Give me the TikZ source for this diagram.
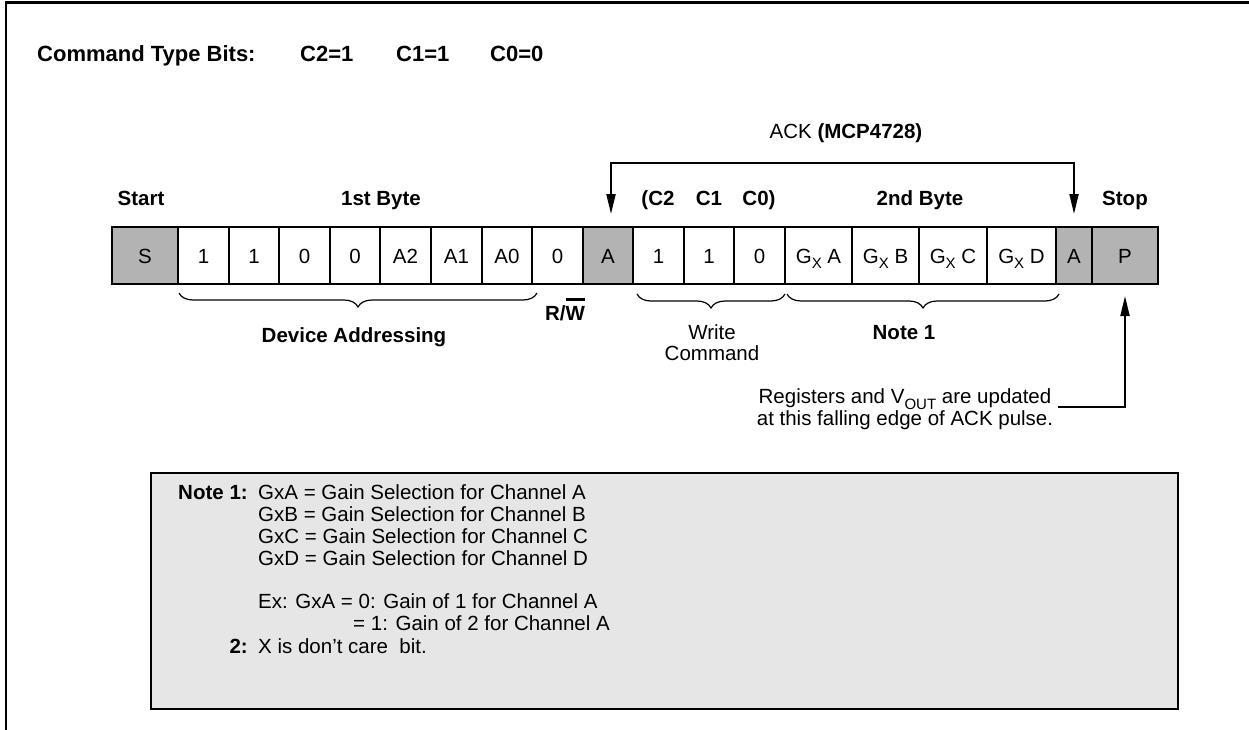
\documentclass[tikz,border=0pt]{standalone}
\usepackage{fontspec}
\setmainfont{Liberation Sans}
\usetikzlibrary{arrows.meta,decorations.pathreplacing}
\definecolor{cellgray}{RGB}{179,179,179}
\definecolor{notegray}{RGB}{230,230,230}
\newcommand{\mysub}[1]{\raisebox{-0.28em}{\fontsize{15}{15}\selectfont #1}}
\newcommand{\barW}{\setbox0\hbox{W}\rlap{\rule[19.5pt]{\wd0}{2.3pt}}\box0}
\begin{document}
\begin{tikzpicture}[x=1pt,y=-1pt,
  txt/.style={font=\fontsize{20.5}{22}\selectfont, inner sep=0pt},
  bld/.style={inner sep=0pt, font=\fontsize{20.5}{22}\selectfont\bfseries},
  ttl/.style={inner sep=0pt, font=\fontsize{22}{24}\selectfont\bfseries},
  cell/.style={txt, draw, line width=2pt, outer sep=0pt, minimum height=57pt, text height=15pt, text depth=0pt, anchor=west},
  gcell/.style={cell, fill=cellgray},
  frameline/.style={line width=2.5pt},
  conn/.style={line width=2pt},
  arr/.style={conn, -{Triangle[length=20pt,width=9pt]}},
  bracel/.style={line width=1.2pt, decorate, decoration={brace, mirror, amplitude=14pt}},
]
\useasboundingbox (0,0) rectangle (1249,730);
\draw[frameline] (6,730) -- (6,2.5) -- (1249,2.5);

% title
\node[ttl, anchor=base west] (title) at (37,62) {Command Type Bits:};
\node[ttl, anchor=base west] (tc2) at (300,62) {C2=1};
\node[ttl, anchor=base west] (tc1) at (396,62) {C1=1};
\node[ttl, anchor=base west] (tc0) at (490,62) {C0=0};

% cells
\node[gcell, minimum width=66pt] (c0) at (112,255.5) {S};
\node[cell, minimum width=51pt] (c1) at (178,255.5) {1};
\node[cell, minimum width=50pt] (c2) at (229,255.5) {1};
\node[cell, minimum width=51pt] (c3) at (279,255.5) {0};
\node[cell, minimum width=50pt] (c4) at (330,255.5) {0};
\node[cell, minimum width=51pt] (c5) at (380,255.5) {A2};
\node[cell, minimum width=51pt] (c6) at (431,255.5) {A1};
\node[cell, minimum width=50pt] (c7) at (482,255.5) {A0};
\node[cell, minimum width=51pt] (c8) at (532,255.5) {0};
\node[gcell, minimum width=50pt] (c9) at (583,255.5) {A};
\node[cell, minimum width=51pt] (c10) at (633,255.5) {1};
\node[cell, minimum width=50pt] (c11) at (684,255.5) {1};
\node[cell, minimum width=51pt] (c12) at (734,255.5) {0};
\node[cell, minimum width=67pt] (c13) at (785,255.5) {G\mysub{X} A};
\node[cell, minimum width=67pt] (c14) at (852,255.5) {G\mysub{X} B};
\node[cell, minimum width=68pt] (c15) at (919,255.5) {G\mysub{X} C};
\node[cell, minimum width=69pt] (c16) at (987,255.5) {G\mysub{X} D};
\node[gcell, minimum width=36pt] (c17) at (1056,255.5) {A};
\node[gcell, minimum width=66pt] (c18) at (1092,255.5) {P};

% upper labels
\node[txt, anchor=base] (ack) at (846,139) {ACK \textbf{(MCP4728)}};
\node[bld, anchor=base] (lstart) at (141,205) {Start};
\node[bld, anchor=base] (lbyte1) at (381,205) {1st Byte};
\node[bld, anchor=base] (lc2) at (658,205) {(C2};
\node[bld, anchor=base] (lc1) at (709,205) {C1};
\node[bld, anchor=base] (lc0) at (759,205) {C0)};
\node[bld, anchor=base] (lbyte2) at (920,205) {2nd Byte};
\node[bld, anchor=base] (lstop) at (1125,205) {Stop};

% ACK connectors
\coordinate (ackL) at (611,163);
\coordinate (ackR) at (1074,163);
\draw[arr, shorten >=13pt] (ackR) -- (ackL) -- (ackL |- c9.north);
\draw[arr, shorten >=13pt] (ackL) -- (ackR) -- (ackR |- c17.north);

% braces
\draw[bracel] ([xshift=1pt,yshift=-9pt]c1.south west) -- ([xshift=5pt,yshift=-9pt]c7.south east);
\draw[bracel] ([xshift=4pt,yshift=-10pt]c10.south west) -- ([yshift=-10pt]c12.south east);
\draw[bracel] ([xshift=2pt,yshift=-10pt]c13.south west) -- ([xshift=3pt,yshift=-10pt]c16.south east);

% lower labels
\node[bld, anchor=base] (ldev) at (354,342) {Device Addressing};
\node[bld, anchor=base] (lrw) at (565,320) {R/\barW};
\node[txt, anchor=base] (lwrite1) at (712,339) {Write};
\node[txt, anchor=base] (lwrite2) at (712,360) {Command};
\node[bld, anchor=base] (lnote) at (904,339) {Note 1};
\node[txt, align=center, anchor=center] (reg) at (905,409.5)
  {Registers and V\mysub{OUT} are updated\\at this falling edge of ACK pulse.};
\coordinate (regE) at (1058,407);
\draw[arr, shorten >=12pt] (regE) -| (c18.south);

% note box
\node[draw, line width=2.5pt, fill=notegray, anchor=north west, outer sep=0pt, inner sep=0pt,
      minimum width=1027pt, minimum height=236pt] (notebox) at (151,473) {};
\node[bld, anchor=base west] (n1a) at (178,499.5) {Note};
\node[bld, anchor=base east] (n1b) at (248,499.5) {1:};
\node[txt, anchor=base west] (nl1) at (258,499.5) {GxA = Gain Selection for Channel A};
\node[txt, anchor=base west] (nl2) at (258,521.5) {GxB = Gain Selection for Channel B};
\node[txt, anchor=base west] (nl3) at (258,543.5) {GxC = Gain Selection for Channel C};
\node[txt, anchor=base west] (nl4) at (258,565.5) {GxD = Gain Selection for Channel D};
\node[txt, anchor=base west] (nl5) at (258,608.5) {Ex: GxA = 0: Gain of 1 for Channel A};
\node[txt, anchor=base west] (nl6) at (353,630.5) {= 1: Gain of 2 for Channel A};
\node[bld, anchor=base east] (n2) at (248,653.5) {2:};
\node[txt, anchor=base west] (nl7) at (258,653.5) {X is don’t care\ \ bit.};
\end{tikzpicture}
\end{document}
